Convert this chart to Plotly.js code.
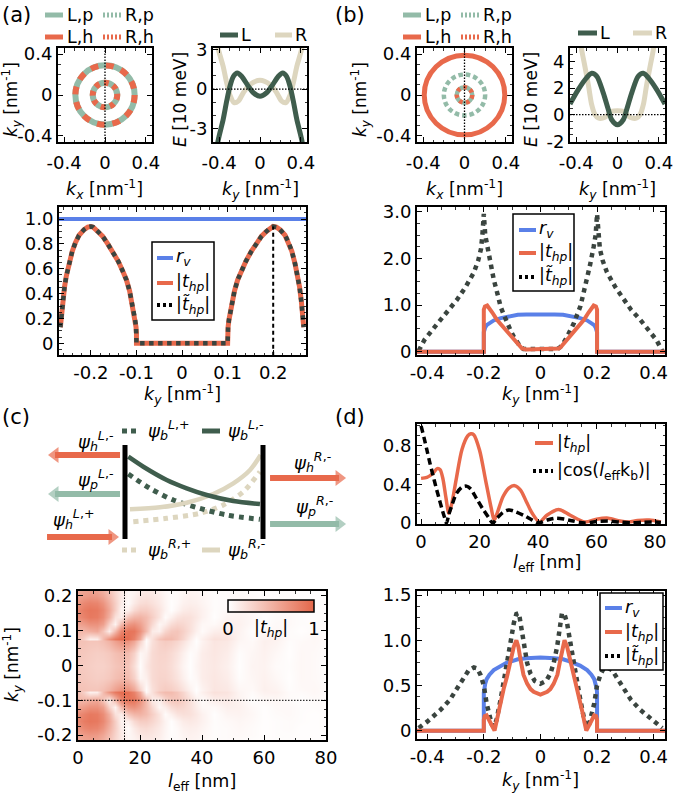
<!DOCTYPE html>
<html>
<head>
<meta charset="utf-8">
<script src="https://cdn.plot.ly/plotly-3.0.1.min.js"></script>
<style>
  body { margin: 0; background: white; }
  #fig { width: 678px; height: 795px; }
</style>
</head>
<body>
<div id="fig"></div>
<script>
// ---------------- data ----------------

// (a),(b) top left: Fermi contour radii [nm^-1]
const ringsA = [0.29, 0.12];          // L,p and L,h coincide (dashed look)
const ringB_Lh = 0.39;
const ringB_Rp = 0.20;
const ringB_inner = 0.075;

// (a) top right: bands E(k_y) [10 meV]
const kLA = [-0.43, -0.41, -0.36, -0.326, -0.294, -0.26, -0.222, -0.18, -0.114, -0.065, 0,
             0.065, 0.114, 0.18, 0.222, 0.26, 0.294, 0.326, 0.36, 0.41, 0.43];
const eLA = [-5.2, -3.9, -2.28, -0.91, 0.21, 0.96, 1.21, 0.96, 0.21, -0.28, -0.54,
             -0.28, 0.21, 0.96, 1.21, 0.96, 0.21, -0.91, -2.28, -3.9, -5.2];
const kRA = [-0.43, -0.41, -0.36, -0.326, -0.29, -0.254, -0.212, -0.163, -0.098, 0,
             0.098, 0.163, 0.212, 0.254, 0.29, 0.326, 0.36, 0.41, 0.43];
const eRA = [4.4, 3.1, 1.7, 0.46, -0.54, -1.03, -0.91, -0.28, 0.34, 0.66,
             0.34, -0.28, -0.91, -1.03, -0.54, 0.46, 1.7, 3.1, 4.4];

// (b) top right
const kLB = [-0.46, -0.38, -0.3, -0.25, -0.2, -0.138, -0.089, -0.056, 0,
             0.056, 0.089, 0.138, 0.2, 0.25, 0.3, 0.38, 0.46];
const eLB = [0.8, 1.88, 2.76, 3.1, 2.88, 1.63, 0.38, -0.38, -0.75,
             -0.38, 0.38, 1.63, 2.88, 3.1, 2.76, 1.88, 0.8];
const kRB = [-0.37, -0.35, -0.316, -0.28, -0.25, -0.218, -0.186, -0.121, -0.056, 0,
             0.056, 0.121, 0.186, 0.218, 0.25, 0.28, 0.316, 0.35, 0.37];
const eRB = [6.5, 5.0, 3.63, 2.13, 0.75, 0.0, -0.25, -0.2, 0.25, 0.3,
             0.25, -0.2, -0.25, 0.0, 0.75, 2.13, 3.63, 5.0, 6.5];

// (a) bottom: |t_hp| vs k_y (|t~_hp| lies on top of it)
const kA = [-0.267, -0.265, -0.262, -0.258, -0.254, -0.248, -0.241, -0.234, -0.226, -0.215,
            -0.207, -0.2, -0.195, -0.185, -0.174, -0.163, -0.152, -0.14, -0.13, -0.122,
            -0.115, -0.111, -0.107, -0.103, -0.101, -0.1, -0.1,
            0.1, 0.1, 0.101, 0.103, 0.107, 0.111, 0.115, 0.122, 0.13, 0.14,
            0.152, 0.163, 0.174, 0.185, 0.195, 0.2, 0.207, 0.215, 0.226, 0.234,
            0.241, 0.248, 0.254, 0.258, 0.262, 0.265, 0.267];
const tA = [0.13, 0.22, 0.33, 0.45, 0.54, 0.64, 0.74, 0.81, 0.87, 0.915,
            0.935, 0.94, 0.935, 0.9, 0.86, 0.8, 0.74, 0.66, 0.58, 0.51,
            0.42, 0.35, 0.27, 0.19, 0.13, 0.08, 0,
            0, 0.08, 0.13, 0.19, 0.27, 0.35, 0.42, 0.51, 0.58, 0.66,
            0.74, 0.8, 0.86, 0.9, 0.935, 0.94, 0.935, 0.915, 0.87, 0.81,
            0.74, 0.64, 0.54, 0.45, 0.33, 0.22, 0.13];
const kRvA = [-0.27, 0.272];
const rvA = [1, 1];
const kMarkA = 0.2;

// (b),(d) bottom: r_v
const kRv = [-0.44, -0.2, -0.2, -0.199, -0.195, -0.19, -0.18, -0.165, -0.14, -0.12, -0.1, -0.08, -0.05, 0,
             0.05, 0.08, 0.1, 0.12, 0.14, 0.165, 0.18, 0.19, 0.195, 0.199, 0.2, 0.2, 0.44];
const rv = [0, 0, 0.42, 0.46, 0.52, 0.57, 0.62, 0.67, 0.72, 0.75, 0.77, 0.79, 0.8, 0.81,
            0.8, 0.79, 0.77, 0.75, 0.72, 0.67, 0.62, 0.57, 0.52, 0.46, 0.42, 0, 0];

// (b) bottom
const kTB = [-0.44, -0.2, -0.2, -0.196, -0.188, -0.18, -0.17, -0.153, -0.135, -0.118, -0.1, -0.082, -0.072, -0.065, -0.05, 0,
             0.05, 0.065, 0.072, 0.082, 0.1, 0.118, 0.135, 0.153, 0.17, 0.18, 0.188, 0.196, 0.2, 0.2, 0.44];
const tB = [0, 0, 0.9, 0.97, 0.99, 0.93, 0.84, 0.68, 0.55, 0.43, 0.3, 0.18, 0.1, 0.07, 0.05, 0.05,
            0.05, 0.07, 0.1, 0.18, 0.3, 0.43, 0.55, 0.68, 0.84, 0.93, 0.99, 0.97, 0.9, 0, 0];
const kTtB = [-0.43, -0.41, -0.38, -0.353, -0.32, -0.294, -0.265, -0.235, -0.22, -0.21, -0.205, -0.2,
              -0.195, -0.188, -0.175, -0.165, -0.15, -0.141, -0.13, -0.118, -0.105, -0.094, -0.08, -0.07, -0.06, 0,
              0.06, 0.07, 0.08, 0.094, 0.105, 0.118, 0.13, 0.141, 0.15, 0.165, 0.175, 0.188, 0.195,
              0.2, 0.205, 0.21, 0.22, 0.235, 0.265, 0.294, 0.32, 0.353, 0.38, 0.41, 0.43];
const ttB = [0.02, 0.25, 0.48, 0.68, 0.9, 1.12, 1.38, 1.7, 1.95, 2.2, 2.5, 2.95,
             2.5, 2.25, 1.85, 1.55, 1.2, 0.97, 0.8, 0.61, 0.45, 0.32, 0.17, 0.1, 0.06, 0.05,
             0.06, 0.1, 0.17, 0.32, 0.45, 0.61, 0.8, 0.97, 1.2, 1.55, 1.85, 2.25, 2.5,
             2.95, 2.5, 2.2, 1.95, 1.7, 1.38, 1.12, 0.9, 0.68, 0.48, 0.25, 0.02];

// (d) bottom
const kTD = [-0.44, -0.2, -0.2, -0.197, -0.19, -0.182, -0.172, -0.162, -0.155, -0.148, -0.141, -0.13, -0.118, -0.106,
             -0.094, -0.085, -0.078, -0.07, -0.06, -0.047, -0.035, -0.024, 0,
             0.024, 0.035, 0.047, 0.06, 0.07, 0.078, 0.085, 0.094, 0.106, 0.118, 0.13, 0.141, 0.148,
             0.155, 0.162, 0.172, 0.182, 0.19, 0.197, 0.2, 0.2, 0.44];
const tD = [0, 0, 0.12, 0.16, 0.17, 0.13, 0.06, 0.0, 0.1, 0.21, 0.34, 0.46, 0.6, 0.77,
            0.93, 1.0, 0.93, 0.78, 0.62, 0.52, 0.46, 0.43, 0.4,
            0.43, 0.46, 0.52, 0.62, 0.78, 0.93, 1.0, 0.93, 0.77, 0.6, 0.46, 0.34, 0.21,
            0.1, 0.0, 0.06, 0.13, 0.17, 0.16, 0.12, 0, 0];
const kTtD = [-0.43, -0.4, -0.353, -0.32, -0.294, -0.27, -0.253, -0.235, -0.224, -0.212, -0.2, -0.19, -0.182,
              -0.172, -0.165, -0.155, -0.141, -0.13, -0.118, -0.106, -0.094, -0.085, -0.076, -0.068, -0.059,
              -0.047, -0.035, -0.02, 0,
              0.02, 0.035, 0.047, 0.059, 0.068, 0.076, 0.085, 0.094, 0.106, 0.118, 0.13, 0.141, 0.155, 0.165,
              0.172, 0.182, 0.19, 0.2, 0.212, 0.224, 0.235, 0.253, 0.27, 0.294, 0.32, 0.353, 0.4, 0.43];
const ttD = [0.03, 0.1, 0.23, 0.34, 0.47, 0.59, 0.67, 0.7, 0.69, 0.62, 0.5, 0.3, 0.18,
             0.07, 0.04, 0.12, 0.34, 0.52, 0.74, 0.97, 1.19, 1.29, 1.3, 1.15, 0.93,
             0.75, 0.63, 0.55, 0.52,
             0.55, 0.63, 0.75, 0.93, 1.15, 1.3, 1.29, 1.19, 0.97, 0.74, 0.52, 0.34, 0.12, 0.04,
             0.07, 0.18, 0.3, 0.5, 0.62, 0.69, 0.7, 0.67, 0.59, 0.47, 0.34, 0.23, 0.1, 0.03];

// (d) top: vs l_eff [nm] at k_y = -0.1
const lT = [0, 2, 4, 5.5, 6.5, 7.5, 8.5, 9.5, 10.5, 12, 14, 16, 17, 18, 20, 22, 24, 25, 26, 28,
            30, 32, 34, 36, 38, 40.5, 43, 47, 51, 56, 60, 64, 68, 71, 74, 78, 82];
const tL = [0.46, 0.47, 0.51, 0.56, 0.55, 0.45, 0.26, 0.1, 0.2, 0.45, 0.76, 0.9, 0.92, 0.91, 0.75, 0.45, 0.15, 0.03, 0.1, 0.27,
            0.36, 0.385, 0.34, 0.22, 0.1, 0.01, 0.08, 0.14, 0.08, 0.01, 0.04, 0.05, 0.02, 0.01, 0.025, 0.03, 0.01];
const lC = [0, 1, 2, 3, 4, 5, 6, 7, 8, 8.7, 9.5, 10.5, 12, 14, 15.5, 17, 19, 21, 23, 24.5,
            26, 28, 30, 32, 35, 38, 40, 43, 46, 49, 52, 56, 60, 64, 68, 72, 76, 80, 82];
const cosC = [1.0, 0.88, 0.75, 0.62, 0.5, 0.38, 0.27, 0.16, 0.06, 0.0, 0.09, 0.18, 0.3, 0.37, 0.38, 0.35, 0.25, 0.15, 0.06, 0.0,
              0.05, 0.11, 0.135, 0.12, 0.08, 0.03, 0.0, 0.03, 0.05, 0.04, 0.02, 0.0, 0.015, 0.02, 0.01, 0.003, 0.008, 0.01, 0.005];

// (c) bottom: |t_hp|(l_eff, k_y), upper half rows (k_y >= 0), picture is symmetric in k_y
const lCols = [0, 2, 4, 6, 8, 10, 12, 14, 16, 18, 20, 22, 24, 26, 28, 30, 32, 34, 36, 38, 40,
               44, 48, 52, 56, 60, 64, 68, 72, 76, 80];
const kyRows = [0, 0.035, 0.07, 0.077, 0.1, 0.12, 0.14, 0.16, 0.18, 0.2, 0.215];
const tMap = [
  [0.35,0.34,0.32,0.30,0.30,0.33,0.38,0.41,0.38,0.22,0.02,0.15,0.24,0.27,0.26,0.22,0.15,0.07,0.01,0.07,0.12,0.15,0.10,0.01,0.07,0.08,0.03,0.02,0.05,0.04,0.01],
  [0.37,0.36,0.34,0.32,0.33,0.36,0.42,0.46,0.44,0.30,0.06,0.10,0.24,0.28,0.28,0.24,0.18,0.10,0.02,0.05,0.12,0.16,0.12,0.02,0.06,0.09,0.05,0.01,0.05,0.04,0.02],
  [0.40,0.40,0.38,0.38,0.42,0.50,0.62,0.72,0.72,0.58,0.30,0.03,0.20,0.30,0.34,0.32,0.27,0.19,0.09,0.01,0.08,0.17,0.15,0.06,0.04,0.10,0.08,0.02,0.04,0.05,0.03],
  [0.42,0.30,0.10,0.12,0.45,0.70,0.88,0.97,0.95,0.82,0.55,0.05,0.20,0.38,0.45,0.45,0.38,0.27,0.12,0.02,0.10,0.20,0.18,0.07,0.03,0.09,0.09,0.03,0.03,0.05,0.03],
  [0.46,0.48,0.53,0.57,0.38,0.12,0.45,0.80,0.91,0.90,0.72,0.45,0.13,0.10,0.27,0.36,0.38,0.31,0.20,0.10,0.03,0.11,0.13,0.08,0.01,0.04,0.05,0.03,0.01,0.03,0.02],
  [0.60,0.65,0.72,0.72,0.62,0.30,0.08,0.45,0.68,0.72,0.62,0.45,0.25,0.06,0.12,0.23,0.28,0.26,0.20,0.12,0.05,0.04,0.10,0.09,0.04,0.01,0.04,0.04,0.02,0.02,0.03],
  [0.75,0.82,0.88,0.86,0.75,0.52,0.20,0.12,0.38,0.48,0.50,0.44,0.32,0.18,0.03,0.10,0.18,0.21,0.20,0.15,0.09,0.01,0.07,0.08,0.05,0.01,0.03,0.04,0.02,0.01,0.02],
  [0.78,0.86,0.90,0.88,0.78,0.58,0.32,0.08,0.10,0.25,0.33,0.33,0.27,0.18,0.08,0.01,0.07,0.13,0.15,0.13,0.09,0.02,0.04,0.06,0.04,0.01,0.02,0.03,0.02,0.01,0.02],
  [0.70,0.78,0.82,0.80,0.70,0.52,0.32,0.12,0.03,0.14,0.22,0.24,0.20,0.14,0.07,0.01,0.04,0.09,0.11,0.10,0.07,0.02,0.03,0.05,0.03,0.01,0.02,0.03,0.01,0.01,0.02],
  [0.60,0.65,0.68,0.66,0.58,0.44,0.28,0.14,0.05,0.10,0.16,0.18,0.16,0.12,0.06,0.02,0.03,0.07,0.09,0.08,0.06,0.02,0.03,0.04,0.03,0.01,0.02,0.02,0.01,0.01,0.01],
  [0.55,0.60,0.62,0.60,0.52,0.40,0.26,0.14,0.06,0.08,0.13,0.15,0.14,0.10,0.05,0.02,0.03,0.06,0.08,0.07,0.05,0.02,0.03,0.03,0.02,0.01,0.02,0.02,0.01,0.01,0.01]
];
const lRef = 15;
const kyRef = -0.1;

// (c) top: sketch, x: 0 = left lead edge, 1 = right lead edge; y: 0..1 = bar height
const bL_minus = { x: [0.024, 0.133, 0.302, 0.447, 0.592, 0.785, 0.978], y: [0.876, 0.769, 0.628, 0.539, 0.468, 0.404, 0.372] };
const bL_plus  = { x: [0.024, 0.181, 0.350, 0.543, 0.737, 0.978], y: [0.691, 0.539, 0.415, 0.326, 0.255, 0.209] };
const bR_minus = { x: [0.036, 0.254, 0.447, 0.640, 0.785, 0.906, 0.983], y: [0.316, 0.337, 0.386, 0.479, 0.592, 0.734, 0.894] };
const bR_plus  = { x: [0.060, 0.302, 0.543, 0.712, 0.857, 0.978], y: [0.184, 0.220, 0.273, 0.362, 0.503, 0.716] };
// arrows: [tail x, head x, y]
const arrowsHole = [[-0.036, -0.507, 0.894], [-0.565, -0.094, 0.021], [1.051, 1.551, 0.649]];
const arrowsPart = [[-0.036, -0.507, 0.479], [1.051, 1.551, 0.16]];

// ---------------- styling / layout helpers ----------------
const W = 678, H = 795;
const X = p => p / W;
const Y = p => 1 - p / H;
const ORANGE = '#e8694b', SAGE = '#93bba8', DARK = '#3f5d4d', BEIGE = '#ddd6bf',
      BLUE = '#5a80e8', DOTC = '#3a443f';
const FS = 18;     // tick labels
const FT = 17.5;   // titles, legend text

function frame(x0, x1, range, vals, text, anchor, minor, vertical, y0, y1, standoff) {
  return {
    domain: vertical ? [Y(y1), Y(y0)] : [X(x0), X(x1)],
    range: range, anchor: anchor,
    tickmode: 'array', tickvals: vals, ticktext: text,
    ticks: 'inside', ticklen: 5, tickwidth: 1, tickcolor: '#000',
    showline: true, linecolor: '#000', linewidth: 2, mirror: 'ticks',
    zeroline: false, showgrid: false, fixedrange: true,
    ticklabelstandoff: standoff || 0,
    tickfont: { size: FS, color: '#000' },
    minor: { ticks: 'inside', ticklen: 2.5, tickwidth: 0.8, tickcolor: '#000', tickmode: 'linear', tick0: 0, dtick: minor }
  };
}
const xAx = (x0, x1, range, vals, text, anchor, minor, standoff) => frame(x0, x1, range, vals, text, anchor, minor, false, 0, 0, standoff);
const yAx = (y0, y1, range, vals, text, anchor, minor) => frame(0, 0, range, vals, text, anchor, minor, true, y0, y1, 0);

const line = (xa, ya, x, y, color, width, dash, shape) => ({
  type: 'scatter', mode: 'lines', x: x, y: y, xaxis: xa, yaxis: ya,
  line: { color: color, width: width, dash: dash || 'solid', shape: shape || 'linear', smoothing: 0.8 },
  showlegend: false, hoverinfo: 'skip'
});

const note = (x, y, text, opt) => Object.assign({
  xref: 'paper', yref: 'paper', x: X(x), y: Y(y), text: text, showarrow: false,
  xanchor: 'center', yanchor: 'middle', font: { size: FT, color: '#000' }
}, opt || {});
const legLine = (x0, x1, y, color, width, dash) => ({
  type: 'line', xref: 'paper', yref: 'paper', x0: X(x0), x1: X(x1), y0: Y(y), y1: Y(y),
  line: { color: color, width: width, dash: dash || 'solid' }
});
const legBox = (x0, x1, y0, y1) => ({
  type: 'rect', xref: 'paper', yref: 'paper', x0: X(x0), x1: X(x1), y0: Y(y1), y1: Y(y0),
  line: { color: '#000', width: 1.5 }, fillcolor: 'white'
});
const ring = (xa, ya, r, color, width, dash) => ({
  type: 'circle', xref: xa, yref: ya, x0: -r, x1: r, y0: -r, y1: r,
  line: { color: color, width: width, dash: dash || 'solid' }
});
const fineDot = { color: '#000', width: 1.3, dash: '1.5px,1.5px' };

const KY = '<i>k</i><sub><i>y</i></sub> [nm<sup>-1</sup>]';
const KX = '<i>k</i><sub><i>x</i></sub> [nm<sup>-1</sup>]';
const LEFF = '<i>l</i><sub>eff</sub> [nm]';
const RV = '<i>r</i><sub><i>v</i></sub>';
const THP = '|<i>t</i><sub><i>hp</i></sub>|';
const TTHP = '|<i>t\u0303</i><sub><i>hp</i></sub>|';
const psi = (s, p) => '<i>\u03c8</i><sub><i>' + s + '</i></sub><sup><i>' + p[0] + '</i>,' + p.slice(1) + '</sup>';

// heatmap grid (mirror the upper-half rows to negative k_y)
const kyAll = kyRows.slice(1).reverse().map(v => -v).concat(kyRows);
const zAll = tMap.slice(1).reverse().concat(tMap);

// ---------------- traces ----------------
const traces = [
  // (a) bands
  line('x2', 'y2', kRA, eRA, BEIGE, 5, 'solid', 'spline'),
  line('x2', 'y2', kLA, eLA, DARK, 5, 'solid', 'spline'),
  // (b) bands
  line('x4', 'y4', kRB, eRB, BEIGE, 5, 'solid', 'spline'),
  line('x4', 'y4', kLB, eLB, DARK, 5, 'solid', 'spline'),
  // (a) bottom
  line('x5', 'y5', kRvA, rvA, BLUE, 4),
  line('x5', 'y5', kA, tA, ORANGE, 5),
  line('x5', 'y5', kA, tA, DOTC, 4.5, 'dot'),
  // (b) bottom
  line('x6', 'y6', kRv, rv, BLUE, 4),
  line('x6', 'y6', kTtB, ttB, DOTC, 4.5, 'dot'),
  line('x6', 'y6', kTB, tB, ORANGE, 4),
  // (c) sketch
  line('x7', 'y7', bR_plus.x, bR_plus.y, BEIGE, 5, 'dot', 'spline'),
  line('x7', 'y7', bL_plus.x, bL_plus.y, DARK, 5, 'dot', 'spline'),
  line('x7', 'y7', bR_minus.x, bR_minus.y, BEIGE, 4.5, 'solid', 'spline'),
  line('x7', 'y7', bL_minus.x, bL_minus.y, DARK, 4.5, 'solid', 'spline'),
  line('x7', 'y7', [0, 0], [0, 1], '#000', 5),
  line('x7', 'y7', [1, 1], [0, 1], '#000', 5),
  // (d) top
  line('x8', 'y8', lT, tL, ORANGE, 3.5, 'solid', 'spline'),
  line('x8', 'y8', lC, cosC, '#000', 3.5, '7px,4px', 'spline'),
  // (c) bottom map
  {
    type: 'heatmap', x: lCols, y: kyAll, z: zAll, xaxis: 'x9', yaxis: 'y9',
    zmin: 0, zmax: 1, zsmooth: 'best', hoverinfo: 'skip',
    colorscale: [[0, '#ffffff'], [1, '#e4674a']],
    colorbar: {
      orientation: 'h', x: X(271), xanchor: 'center', xref: 'paper',
      y: Y(600), yanchor: 'top', yref: 'paper',
      len: 86, lenmode: 'pixels', thickness: 12, thicknessmode: 'pixels',
      outlinewidth: 1.5, outlinecolor: '#000', borderwidth: 0, xpad: 0, ypad: 0,
      tickvals: [0, 1], ticktext: ['0', '1'], ticks: '', tickfont: { size: FS, color: '#000' }
    }
  },
  // (d) bottom
  line('x10', 'y10', kRv, rv, BLUE, 4),
  line('x10', 'y10', kTtD, ttD, DOTC, 4.5, 'dot'),
  line('x10', 'y10', kTD, tD, ORANGE, 4)
];

// sketch arrows
function arrow(a, color) {
  return {
    type: 'scatter', mode: 'lines+markers', x: [a[0], a[1]], y: [a[2], a[2]],
    xaxis: 'x7', yaxis: 'y7', showlegend: false, hoverinfo: 'skip', cliponaxis: false,
    line: { color: color, width: 6 },
    marker: { size: [0, 14], color: color, symbol: a[1] < a[0] ? 'triangle-left' : 'triangle-right', line: { width: 0 } }
  };
}
arrowsHole.forEach(a => traces.push(arrow(a, ORANGE)));
arrowsPart.forEach(a => traces.push(arrow(a, SAGE)));

// ---------------- layout ----------------
const T3 = [-0.4, 0, 0.4], T3s = ['-0.4', '0', '0.4'];
const K5 = [-0.4, -0.2, 0, 0.2, 0.4], K5s = ['-0.4', '-0.2', '0', '0.2', '0.4'];
const L5 = [0, 20, 40, 60, 80], L5s = ['0', '20', '40', '60', '80'];

const layout = {
  width: W, height: H, margin: { l: 0, r: 0, t: 0, b: 0 },
  paper_bgcolor: 'white', plot_bgcolor: 'white', showlegend: false,
  font: { family: 'DejaVu Sans, sans-serif', size: 16, color: '#000' },

  xaxis:  xAx(58, 152, [-0.46, 0.46], T3, T3s, 'y', 0.1, 3),
  yaxis:  yAx(48, 142, [-0.46, 0.46], T3, T3s, 'x', 0.1),
  xaxis2: xAx(213, 307, [-0.46, 0.46], T3, T3s, 'y2', 0.1, 3),
  yaxis2: yAx(48, 142, [-4, 3.1], [-3, 0, 3], ['-3', '0', '3'], 'x2', 1),
  xaxis3: xAx(417, 512, [-0.46, 0.46], T3, T3s, 'y3', 0.1, 3),
  yaxis3: yAx(48, 142, [-0.46, 0.46], T3, T3s, 'x3', 0.1),
  xaxis4: xAx(570, 665, [-0.46, 0.46], T3, T3s, 'y4', 0.1, 3),
  yaxis4: yAx(48, 142, [-2.05, 5.0], [-2, 0, 2, 4], ['-2', '0', '2', '4'], 'x4', 0.5),
  xaxis5: xAx(59, 306, [-0.27, 0.272], [-0.2, -0.1, 0, 0.1, 0.2], ['-0.2', '-0.1', '0', '0.1', '0.2'], 'y5', 0.02, 0),
  yaxis5: yAx(207, 355, [-0.094, 1.097], [0, 0.2, 0.4, 0.6, 0.8, 1.0], ['0', '0.2', '0.4', '0.6', '0.8', '1.0'], 'x5', 0.05),
  xaxis6: xAx(417, 665, [-0.436, 0.44], K5, K5s, 'y6', 0.05, 0),
  yaxis6: yAx(207, 355, [-0.07, 3.1], [0, 1, 2, 3], ['0', '1.0', '2.0', '3.0'], 'x6', 0.25),
  xaxis7: { domain: [0, X(360)], range: [-125 / 138, 235 / 138], anchor: 'y7', visible: false, fixedrange: true },
  yaxis7: { domain: [Y(580), Y(400)], range: [-41 / 94, 139 / 94], anchor: 'x7', visible: false, fixedrange: true },
  xaxis8: xAx(417, 665, [-1.4, 83.4], L5, L5s, 'y8', 5, 0),
  yaxis8: yAx(424, 524, [-0.01, 1.02], [0, 0.4, 0.8], ['0', '0.4', '0.8'], 'x8', 0.1),
  xaxis9: xAx(78, 326, [0, 80], L5, L5s, 'y9', 5, 0),
  yaxis9: yAx(591, 740, [-0.214, 0.214], [-0.2, -0.1, 0, 0.1, 0.2], ['-0.2', '-0.1', '0', '0.1', '0.2'], 'x9', 0.025),
  xaxis10: xAx(417, 665, [-0.436, 0.44], K5, K5s, 'y10', 0.05, 0),
  yaxis10: yAx(591, 739, [-0.092, 1.545], [0, 0.5, 1, 1.5], ['0', '0.5', '1.0', '1.5'], 'x10', 0.125),

  shapes: [
    // (a) contours: L,p under L,h dashes
    ring('x', 'y', ringsA[0], SAGE, 6), ring('x', 'y', ringsA[0], ORANGE, 6, '7.8px,7.8px'),
    ring('x', 'y', ringsA[1], SAGE, 6), ring('x', 'y', ringsA[1], ORANGE, 6, '4.7px,4.7px'),
    { type: 'line', xref: 'x', yref: 'y domain', x0: 0, x1: 0, y0: 0, y1: 1, line: fineDot },
    // (b) contours
    ring('x3', 'y3', ringB_Lh, ORANGE, 5),
    ring('x3', 'y3', ringB_Rp, SAGE, 4.5, '4.5px,3px'),
    ring('x3', 'y3', ringB_inner, SAGE, 4.5), ring('x3', 'y3', ringB_inner, ORANGE, 4.5, '3.5px,3.5px'),
    { type: 'line', xref: 'x3', yref: 'y3 domain', x0: 0, x1: 0, y0: 0, y1: 1, line: fineDot },
    // zero-energy lines
    { type: 'line', xref: 'x2 domain', yref: 'y2', x0: 0, x1: 1, y0: 0, y1: 0, line: fineDot },
    { type: 'line', xref: 'x4 domain', yref: 'y4', x0: 0, x1: 1, y0: 0, y1: 0, line: fineDot },
    // (a) bottom marker at k_y = 0.2
    { type: 'line', xref: 'x5', yref: 'y5', x0: kMarkA, x1: kMarkA, y0: -0.1, y1: 0.94, line: { color: '#000', width: 2, dash: '4px,3px' } },
    // map reference lines
    { type: 'line', xref: 'x9', yref: 'y9 domain', x0: lRef, x1: lRef, y0: 0, y1: 1, line: { color: '#000', width: 1, dash: '1.5px,1.5px' } },
    { type: 'line', xref: 'x9 domain', yref: 'y9', x0: 0, x1: 1, y0: kyRef, y1: kyRef, line: { color: '#000', width: 1, dash: '1.5px,1.5px' } },

    // legends (a),(b) contours
    legLine(45, 63, 15, SAGE, 5), legLine(103, 121, 15, SAGE, 5, '2px,2px'),
    legLine(45, 63, 37, ORANGE, 5), legLine(103, 121, 37, ORANGE, 5, '2px,2px'),
    legLine(403, 421, 15, SAGE, 5), legLine(461, 479, 15, SAGE, 5, '2px,2px'),
    legLine(403, 421, 37, ORANGE, 5), legLine(461, 479, 37, ORANGE, 5, '2px,2px'),
    // legends bands
    legLine(220, 238, 35, DARK, 5), legLine(275, 292, 35, BEIGE, 5),
    legLine(578, 597, 33, DARK, 5), legLine(633, 652, 33, BEIGE, 5),
    // legend (a) bottom
    legBox(152, 214, 242, 320),
    legLine(157, 173, 258, BLUE, 4), legLine(157, 173, 283, ORANGE, 4), legLine(157, 173, 305, '#000', 4, '3px,3px'),
    // legend (b) bottom
    legBox(513, 574, 214, 291),
    legLine(519, 536, 230, BLUE, 4), legLine(519, 536, 253, ORANGE, 4), legLine(519, 536, 277, '#000', 4, '3px,3px'),
    // legend (d) bottom
    legBox(600, 663, 593, 670),
    legLine(605, 622, 608, BLUE, 4), legLine(605, 622, 632, ORANGE, 4), legLine(605, 622, 656, '#000', 4, '3px,3px'),
    // legend (d) top
    legLine(535, 553, 443, ORANGE, 4), legLine(533, 553, 471, '#000', 4, '3px,3px'),
    // sketch legend
    legLine(122, 140, 431, DARK, 5, '5px,4px'), legLine(202, 220, 431, DARK, 5),
    legLine(122, 140, 550, BEIGE, 5, '5px,4px'), legLine(202, 220, 550, BEIGE, 5)
  ],

  annotations: [
    note(0, 15, '(a)', { xanchor: 'left', font: { size: 21 } }),
    note(333, 15, '(b)', { xanchor: 'left', font: { size: 21 } }),
    note(0, 417, '(c)', { xanchor: 'left', font: { size: 21 } }),
    note(333, 417, '(d)', { xanchor: 'left', font: { size: 21 } }),

    // axis titles
    note(12, 100, KY, { textangle: -90, font: { size: 17 } }),
    note(104, 190, KX),
    note(180, 100, '<i>E</i> [10 meV]', { textangle: -90, font: { size: 17 } }),
    note(260, 190, KY),
    note(361, 100, KY, { textangle: -90, font: { size: 17 } }),
    note(464, 190, KX),
    note(531, 100, '<i>E</i> [10 meV]', { textangle: -90, font: { size: 17 } }),
    note(617, 190, KY),
    note(182, 394, KY),
    note(540, 394, KY),
    note(547, 563, LEFF),
    note(202, 782, LEFF),
    note(12, 665, KY, { textangle: -90, font: { size: 17 } }),
    note(540, 780, KY),

    // legend texts
    note(65, 15, 'L,p', { xanchor: 'left' }), note(123, 15, 'R,p', { xanchor: 'left' }),
    note(65, 37, 'L,h', { xanchor: 'left' }), note(123, 37, 'R,h', { xanchor: 'left' }),
    note(423, 15, 'L,p', { xanchor: 'left' }), note(481, 15, 'R,p', { xanchor: 'left' }),
    note(423, 37, 'L,h', { xanchor: 'left' }), note(481, 37, 'R,h', { xanchor: 'left' }),
    note(239, 35, 'L', { xanchor: 'left' }), note(293, 35, 'R', { xanchor: 'left' }),
    note(598, 33, 'L', { xanchor: 'left' }), note(653, 33, 'R', { xanchor: 'left' }),
    note(174, 258, RV, { xanchor: 'left' }), note(174, 283, THP, { xanchor: 'left' }), note(174, 305, TTHP, { xanchor: 'left' }),
    note(537, 230, RV, { xanchor: 'left' }), note(537, 253, THP, { xanchor: 'left' }), note(537, 277, TTHP, { xanchor: 'left' }),
    note(623, 608, RV, { xanchor: 'left' }), note(623, 632, THP, { xanchor: 'left' }), note(623, 656, TTHP, { xanchor: 'left' }),
    note(555, 443, THP, { xanchor: 'left' }),
    note(555, 471, '|cos(<i>l</i><sub>eff</sub>k<sub>b</sub>)|', { xanchor: 'left' }),
    note(271, 628, THP),

    // sketch labels
    note(95, 441, psi('h', 'L-'), { font: { size: 18 } }),
    note(95, 479, psi('p', 'L-'), { font: { size: 18 } }),
    note(73, 519, psi('h', 'L+'), { font: { size: 18 } }),
    note(312, 462, psi('h', 'R-'), { font: { size: 18 } }),
    note(314, 506, psi('p', 'R-'), { font: { size: 18 } }),
    note(146, 430, psi('b', 'L+'), { xanchor: 'left', font: { size: 18 } }),
    note(226, 430, psi('b', 'L-'), { xanchor: 'left', font: { size: 18 } }),
    note(146, 549, psi('b', 'R+'), { xanchor: 'left', font: { size: 18 } }),
    note(226, 549, psi('b', 'R-'), { xanchor: 'left', font: { size: 18 } })
  ]
};

Plotly.newPlot('fig', traces, layout, { staticPlot: true, displayModeBar: false });
</script>
</body>
</html>
